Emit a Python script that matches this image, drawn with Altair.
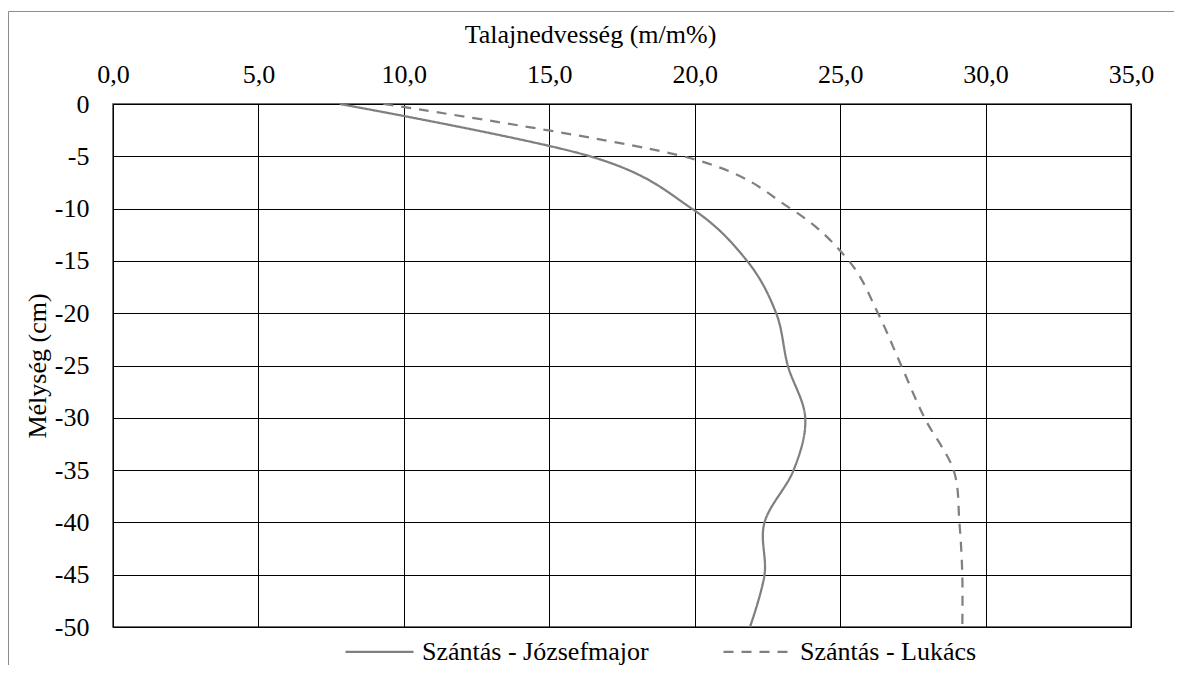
import altair as alt
import pandas as pd

# Depth (cm) and soil moisture (m/m%) for each series
depth = [0, -5, -10, -15, -20, -25, -30, -35, -40, -45, -50]
jozsefmajor = [7.8, 16.4, 19.9, 21.8, 22.8, 23.2, 23.8, 23.4, 22.4, 22.4, 21.9]
lukacs = [9.3, 19.6, 23.3, 25.3, 26.3, 27.1, 27.9, 28.9, 29.1, 29.2, 29.2]
series_names = ["Szántás - Józsefmajor", "Szántás - Lukács"]
x_ticks = [0, 5, 10, 15, 20, 25, 30, 35]
y_ticks = [0, -5, -10, -15, -20, -25, -30, -35, -40, -45, -50]

rows = []
for name, vals in zip(series_names, [jozsefmajor, lukacs]):
    for i, (d, v) in enumerate(zip(depth, vals)):
        rows.append({"series": name, "depth": d, "moisture": v, "idx": i})
df = pd.DataFrame(rows)

FONT = "Liberation Serif"
W, H = 1018, 523

legend = alt.Legend(
    title=None,
    labelFont=FONT,
    labelFontSize=26,
    labelColor="#000000",
)

lines = alt.Chart(df).mark_line(interpolate="cardinal", strokeWidth=2.25).encode(
    x=alt.X(
        "moisture:Q",
        scale=alt.Scale(domain=[0, 35], nice=False, zero=False),
        axis=alt.Axis(
            orient="top",
            values=x_ticks,
            labelExpr="replace(format(datum.value, '.1f'), '.', ',')",
            labelFont=FONT,
            labelFontSize=26,
            titleFont=FONT,
            titleFontSize=26,
            title="Talajnedvesség (m/m%)",
            titleX=477,
            titleY=-62,
            titleAlign="center",
            titleBaseline="alphabetic",
            labelBaseline="alphabetic",
            labelAlign="center",
            labelFlush=False,
            labelOverlap=False,
            labelPadding=22,
            ticks=False,
            tickSize=0,
            domain=False,
        ),
    ),
    y=alt.Y(
        "depth:Q",
        scale=alt.Scale(domain=[-50, 0], nice=False, zero=False),
        axis=alt.Axis(
            orient="left",
            values=y_ticks,
            labelExpr="'' + datum.value",
            labelFont=FONT,
            labelFontSize=26,
            titleFont=FONT,
            titleFontSize=26,
            title="Mélység (cm)",
            titleX=-68,
            titleY=H / 2,
            titleAngle=270,
            titleAlign="center",
            titleBaseline="alphabetic",
            labelPadding=24,
            labelBaseline="middle",
            labelFlush=False,
            labelOverlap=False,
            ticks=False,
            tickSize=0,
            domain=False,
        ),
    ),
    color=alt.Color(
        "series:N",
        scale=alt.Scale(domain=series_names, range=["#808080", "#808080"]),
        legend=legend,
    ),
    strokeDash=alt.StrokeDash(
        "series:N",
        scale=alt.Scale(domain=series_names, range=[[1, 0], [10, 8]]),
        legend=legend,
    ),
    order=alt.Order("idx:Q"),
)

one = pd.DataFrame({"a": [0]})
frame_top = alt.Chart(one).mark_rule(stroke="#8c8c8c", strokeWidth=1).encode(
    x=alt.value(-104.5),
    x2=alt.value(W + 60),
    y=alt.value(-92.5),
)
frame_left = alt.Chart(one).mark_rule(stroke="#8c8c8c", strokeWidth=1).encode(
    x=alt.value(-104.5),
    y=alt.value(-92.5),
    y2=alt.value(H + 60),
)

chart = alt.layer(frame_top, frame_left, lines).properties(
    width=W,
    height=H,
    padding={"left": 105, "top": 96, "right": 43, "bottom": 38},
    autosize=alt.AutoSizeParams(type="none"),
).configure(
    font=FONT,
).configure_view(
    stroke="#404040",
    strokeWidth=1.5,
).configure_axis(
    labelFont=FONT,
    titleFont=FONT,
    labelFontSize=26,
    titleFontSize=26,
    titleFontWeight="normal",
    labelColor="#000000",
    titleColor="#000000",
    gridColor="#000000",
    gridOpacity=1,
    gridWidth=1,
    grid=True,
).configure_legend(
    orient="none",
    legendX=231,
    legendY=512,
    direction="horizontal",
    symbolType="stroke",
    symbolSize=4624,
    symbolStrokeWidth=2.25,
    labelFont=FONT,
    labelFontSize=26,
    labelColor="#000000",
    labelOffset=7,
    labelLimit=400,
    columnPadding=70,
    padding=0,
)

chart.save("out.html", embed_options={"renderer": "svg", "actions": False})
